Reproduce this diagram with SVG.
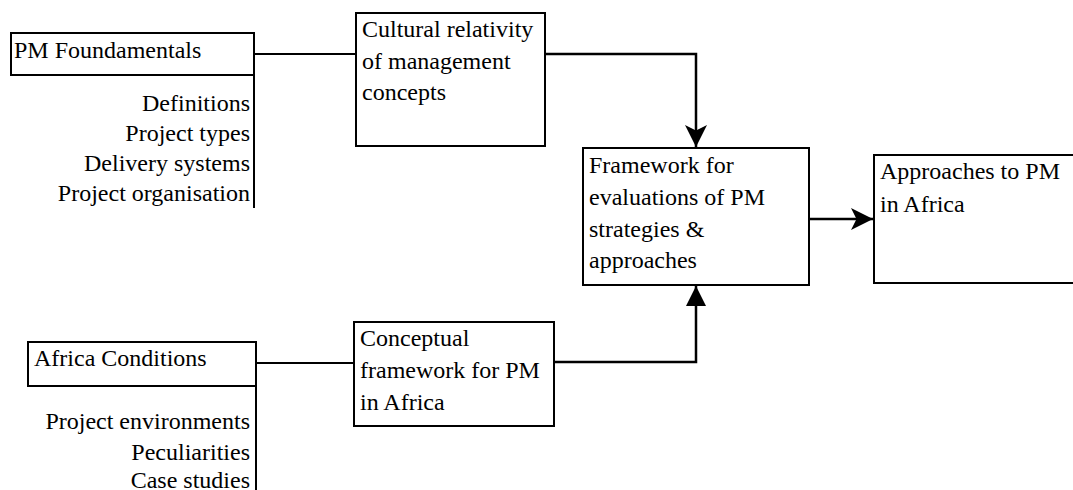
<svg xmlns="http://www.w3.org/2000/svg" width="1073" height="490" viewBox="0 0 1073 490">
<defs>
<marker id="notch" markerUnits="userSpaceOnUse" markerWidth="22" markerHeight="22" viewBox="0 0 20 20" refX="20" refY="10" orient="auto">
<path d="M0,0 L20,10 L0,20 L5,10 Z" fill="#000"/>
</marker>
<marker id="tri" markerUnits="userSpaceOnUse" markerWidth="20" markerHeight="20" viewBox="0 0 20 20" refX="20" refY="10" orient="auto">
<path d="M0,0 L20,10 L0,20 Z" fill="#000"/>
</marker>
</defs>
<g id="connectors" fill="none" stroke="#000" stroke-width="2">
<line x1="254" y1="75" x2="254" y2="208"/>
<line x1="256" y1="386" x2="256" y2="490"/>
<line x1="254" y1="54" x2="356" y2="54"/>
<line x1="256" y1="363" x2="354" y2="363"/>
<polyline stroke-width="2.5" points="545,54 696,54 696,147" marker-end="url(#notch)"/>
<polyline stroke-width="2.5" points="554,362 696,362 696,286" marker-end="url(#tri)"/>
<line stroke-width="2.5" x1="809" y1="219" x2="873" y2="219" marker-end="url(#notch)"/>
</g>
<g id="pm-foundamentals">
<rect fill="#fff" stroke="#000" stroke-width="2" x="11" y="33" width="243" height="42"/>
<text style="font-family:'Liberation Serif',serif;font-size:24px" x="14" y="58">PM Foundamentals</text>
<text style="font-family:'Liberation Serif',serif;font-size:24px" text-anchor="end" x="250" y="111">Definitions</text>
<text style="font-family:'Liberation Serif',serif;font-size:24px" text-anchor="end" x="250" y="141">Project types</text>
<text style="font-family:'Liberation Serif',serif;font-size:24px" text-anchor="end" x="250" y="171">Delivery systems</text>
<text style="font-family:'Liberation Serif',serif;font-size:24px" text-anchor="end" x="250" y="201">Project organisation</text>
</g>
<g id="cultural">
<rect fill="#fff" stroke="#000" stroke-width="2" x="356" y="13" width="189" height="133"/>
<text style="font-family:'Liberation Serif',serif;font-size:24px" x="362" y="37">Cultural relativity</text>
<text style="font-family:'Liberation Serif',serif;font-size:24px" x="362" y="68.5">of management</text>
<text style="font-family:'Liberation Serif',serif;font-size:24px" x="362" y="100">concepts</text>
</g>
<g id="framework">
<rect fill="#fff" stroke="#000" stroke-width="2" x="583" y="148" width="226" height="137"/>
<text style="font-family:'Liberation Serif',serif;font-size:24px" x="589" y="173">Framework for</text>
<text style="font-family:'Liberation Serif',serif;font-size:24px" x="589" y="205">evaluations of PM</text>
<text style="font-family:'Liberation Serif',serif;font-size:24px" x="589" y="236.5">strategies &amp;</text>
<text style="font-family:'Liberation Serif',serif;font-size:24px" x="589" y="268">approaches</text>
</g>
<g id="approaches">
<rect fill="#fff" stroke="#000" stroke-width="2" x="874" y="155" width="210" height="128"/>
<text style="font-family:'Liberation Serif',serif;font-size:24px" x="880" y="179">Approaches to PM</text>
<text style="font-family:'Liberation Serif',serif;font-size:24px" x="880" y="211.5">in Africa</text>
</g>
<g id="africa-conditions">
<rect fill="#fff" stroke="#000" stroke-width="2" x="28" y="342" width="228" height="44"/>
<text style="font-family:'Liberation Serif',serif;font-size:24px" x="34" y="366">Africa Conditions</text>
<text style="font-family:'Liberation Serif',serif;font-size:24px" text-anchor="end" x="250" y="428.5">Project environments</text>
<text style="font-family:'Liberation Serif',serif;font-size:24px" text-anchor="end" x="250" y="459.5">Peculiarities</text>
<text style="font-family:'Liberation Serif',serif;font-size:24px" text-anchor="end" x="250" y="488">Case studies</text>
</g>
<g id="conceptual">
<rect fill="#fff" stroke="#000" stroke-width="2" x="354" y="322" width="200" height="104"/>
<text style="font-family:'Liberation Serif',serif;font-size:24px" x="360" y="346">Conceptual</text>
<text style="font-family:'Liberation Serif',serif;font-size:24px" x="360" y="378">framework for PM</text>
<text style="font-family:'Liberation Serif',serif;font-size:24px" x="360" y="410">in Africa</text>
</g>
</svg>
